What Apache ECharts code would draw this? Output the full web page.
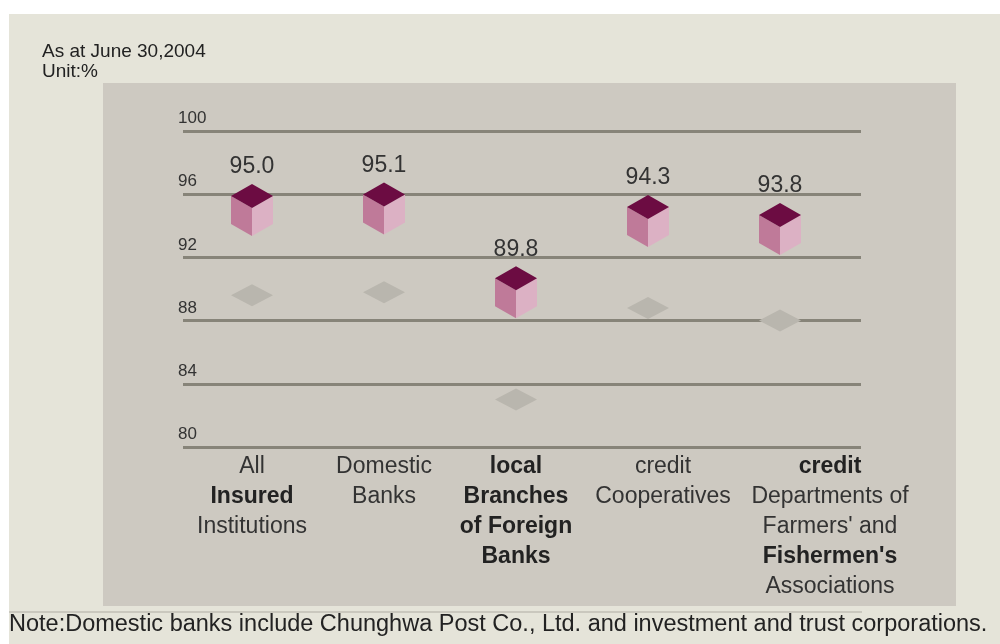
<!DOCTYPE html>
<html>
<head>
<meta charset="utf-8">
<script src="https://cdn.jsdelivr.net/npm/echarts@6/dist/echarts.min.js"></script>
<style>
html,body{margin:0;padding:0;background:#ffffff;}
#chart{width:1000px;height:644px;}
</style>
</head>
<body>
<div id="chart"></div>
<script>
// ---- data ----
const categories = [
  "All\nInsured\nInstitutions",
  "Domestic\nBanks",
  "local\nBranches\nof Foreign\nBanks",
  "credit\nCooperatives",
  "credit\nDepartments of\nFarmers' and\nFishermen's\nAssociations"
];
const boldLines = ["Insured", "local", "Branches", "of Foreign", "Banks@2", "credit@4", "Fishermen's"];
const ratioValues = [95.0, 95.1, 89.8, 94.3, 93.8];      // cubes (labelled)
const compareValues = [89.6, 89.8, 83.0, 88.8, 88.0];    // grey diamonds
const yTicks = [80, 84, 88, 92, 96, 100];
const titleLines = ["As at June 30,2004", "Unit:%"];
const noteText = "Note:Domestic banks include Chunghwa Post Co., Ltd. and investment and trust corporations.";

// ---- styles ----
const FONT = "'Liberation Sans', Arial, sans-serif";
const labelShift = [0, 0, 0, 30, 100];

function isBold(line, idx) {
  return boldLines.indexOf(line) >= 0 || boldLines.indexOf(line + '@' + idx) >= 0;
}

const rich = {};
labelShift.forEach(function (s, i) {
  rich['n' + i] = {fontFamily: FONT, fontSize: 23, lineHeight: 30, color: '#333', padding: [0, 0, 0, s]};
  rich['b' + i] = {fontFamily: FONT, fontSize: 23, lineHeight: 30, color: '#222', fontWeight: 'bold', padding: [0, 0, 0, s]};
});

const chart = echarts.init(document.getElementById('chart'), null, {renderer: 'canvas'});

const option = {
  animation: false,
  backgroundColor: '#ffffff',
  graphic: [
    {type: 'rect', z: -10, shape: {x: 9, y: 14, width: 991, height: 630}, style: {fill: '#e5e4d9'}},
    {type: 'rect', z: -9, shape: {x: 103, y: 83, width: 853, height: 523}, style: {fill: '#cdc9c1'}},
    {type: 'line', z: -8, shape: {x1: 9, y1: 612, x2: 862, y2: 612}, style: {stroke: '#cac8be', lineWidth: 2}},
    {type: 'text', left: 42, top: 42, style: {text: titleLines[0], font: '19px ' + FONT, fill: '#222'}},
    {type: 'text', left: 42, top: 62, style: {text: titleLines[1], font: '19px ' + FONT, fill: '#222'}},
    {type: 'text', left: 9, top: 613, style: {text: noteText, font: '23.5px ' + FONT, fill: '#222'}}
  ],
  grid: [
    {left: 183, right: 139, top: 131, bottom: 197},
    {left: 186, right: 154, top: 131, bottom: 197}
  ],
  xAxis: [
    {type: 'value', gridIndex: 0, show: false, min: 0, max: 1},
    {
      type: 'category', gridIndex: 1, data: categories,
      axisLine: {show: false}, axisTick: {show: false},
      axisLabel: {
        interval: 0, margin: 5, rich: rich,
        formatter: function (val, idx) {
          return val.split('\n').map(function (l) {
            return '{' + (isBold(l, idx) ? 'b' : 'n') + idx + '|' + l + '}';
          }).join('\n');
        }
      }
    }
  ],
  yAxis: [
    {
      type: 'value', gridIndex: 0, min: yTicks[0], max: yTicks[yTicks.length - 1], interval: 4,
      axisLine: {show: false}, axisTick: {show: false},
      splitLine: {show: true, lineStyle: {color: '#878479', width: 3}},
      axisLabel: {
        inside: true, margin: -5, verticalAlign: 'bottom', padding: [0, 0, 4, 0],
        fontFamily: FONT, fontSize: 17, color: '#333'
      }
    },
    {type: 'value', gridIndex: 1, min: yTicks[0], max: yTicks[yTicks.length - 1], show: false, splitLine: {show: false}}
  ],
  series: [
    {
      type: 'scatter', xAxisIndex: 1, yAxisIndex: 1, data: compareValues,
      symbol: 'diamond', symbolSize: [42, 22],
      itemStyle: {color: '#b9b6ae', opacity: 1}, z: 3
    },
    {
      type: 'custom', xAxisIndex: 1, yAxisIndex: 1, z: 4,
      data: ratioValues.map(function (v, i) { return [i, v]; }),
      renderItem: function (params, api) {
        const p = api.coord([api.value(0), api.value(1)]);
        const cx = p[0], cy = p[1];
        const hw = 21;
        return {
          type: 'group',
          children: [
            {type: 'polygon', shape: {points: [[cx - hw, cy - 14], [cx, cy - 2], [cx, cy + 26], [cx - hw, cy + 14]]}, style: {fill: '#bf7a99'}},
            {type: 'polygon', shape: {points: [[cx, cy - 2], [cx + hw, cy - 14], [cx + hw, cy + 14], [cx, cy + 26]]}, style: {fill: '#dcb1c4'}},
            {type: 'polygon', shape: {points: [[cx, cy - 26], [cx + hw, cy - 14], [cx, cy - 2], [cx - hw, cy - 14]]}, style: {fill: '#6c0c42'}},
            {type: 'text', x: cx, y: cy - 43, style: {text: api.value(1).toFixed(1), align: 'center', verticalAlign: 'middle', font: '23px ' + FONT, fill: '#333'}}
          ]
        };
      }
    }
  ]
};
chart.setOption(option);
</script>
</body>
</html>
